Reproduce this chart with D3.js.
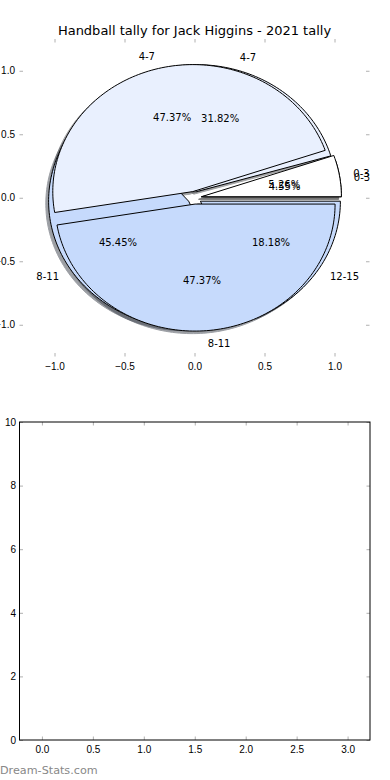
<!DOCTYPE html>
<html>
<head>
<meta charset="utf-8">
<script src="https://cdn.jsdelivr.net/npm/d3@7"></script>
<style>
  body { margin: 0; background: #fff; }
  svg { display: block; font-family: "DejaVu Sans", sans-serif; }
  .tick line { stroke: #b0b0b0; }
  .tick text { font-size: 10px; fill: #000; }
</style>
</head>
<body>
<div id="chart"></div>
<script>
// tally data (the two pies were drawn on the same axes)
var bandsA = ["0-3", "4-7", "8-11", "12-15"];
var countsA = [1, 7, 10, 4];
var bandsB = ["0-3", "4-7", "8-11"];
var countsB = [1, 9, 9];

var bandColors = { "0-3": "#ffffff", "4-7": "#e9f0fe", "8-11": "#c6dafc", "12-15": "#c6dafc" };

var pieTicks = [-1.0, -0.5, 0.0, 0.5, 1.0];
var barXTicks = [0.0, 0.5, 1.0, 1.5, 2.0, 2.5, 3.0];
var barYTicks = [0, 2, 4, 6, 8, 10];

var chartTitle = "Handball tally for Jack Higgins - 2021 tally";

var W = 390, H = 780;
var svg = d3.select("#chart").append("svg")
    .attr("width", W)
    .attr("height", H);

// ---------- top axes: pie ----------
var pieBox = {left: 19.5, right: 369.5, top: 39, bottom: 356.5};

var x = d3.scaleLinear().domain([-1.25, 1.25]).range([pieBox.left, pieBox.right]);
var y = d3.scaleLinear().domain([-1.25, 1.25]).range([pieBox.bottom, pieBox.top]);

var explode = 0.05, labelDist = 1.1, pctDist = 0.6, shadowOff = -0.02;

var line = d3.line()
    .x(function(d) { return x(d[0]); })
    .y(function(d) { return y(d[1]); })
    .curve(d3.curveLinearClosed);

function wedges(bands, counts) {
    var total = d3.sum(counts);
    var arcs = d3.pie().sort(null).startAngle(0).endAngle(2 * Math.PI)(counts);
    return arcs.map(function(a, i) {
        var mid = (a.startAngle + a.endAngle) / 2;
        var cx = explode * Math.cos(mid), cy = explode * Math.sin(mid);
        var pts = [[cx, cy]];
        var n = Math.max(4, Math.ceil((a.endAngle - a.startAngle) * 40));
        for (var k = 0; k <= n; k++) {
            var t = a.startAngle + (a.endAngle - a.startAngle) * k / n;
            pts.push([cx + Math.cos(t), cy + Math.sin(t)]);
        }
        return {
            band: bands[i], pts: pts, mid: mid, cx: cx, cy: cy,
            pct: counts[i] / total * 100
        };
    });
}

var pies = [wedges(bandsA, countsA), wedges(bandsB, countsB)];

var pieG = svg.append("g");

function shade(band) {
    var c = d3.rgb(bandColors[band]);
    return d3.rgb(c.r * 0.3, c.g * 0.3, c.b * 0.3);
}

// shadows go under every wedge
pies.forEach(function(ws) {
    pieG.selectAll(null)
        .data(ws)
        .enter().append("path")
        .attr("d", function(d) {
            return line(d.pts.map(function(p) { return [p[0] + shadowOff, p[1] + shadowOff]; }));
        })
        .attr("fill", function(d) { return shade(d.band); })
        .attr("stroke", function(d) { return shade(d.band); })
        .attr("opacity", 0.5);
});

pies.forEach(function(ws) {
    pieG.selectAll(null)
        .data(ws)
        .enter().append("path")
        .attr("d", function(d) { return line(d.pts); })
        .attr("fill", function(d) { return bandColors[d.band]; })
        .attr("stroke", "#000")
        .attr("stroke-width", 1);
});

var fmtPct = d3.format(".2f");
pies.forEach(function(ws) {
    pieG.selectAll(null)
        .data(ws)
        .enter().append("text")
        .attr("x", function(d) { return x(d.cx + labelDist * Math.cos(d.mid)); })
        .attr("y", function(d) { return y(d.cy + labelDist * Math.sin(d.mid)); })
        .attr("dy", "0.36em")
        .attr("text-anchor", function(d) { return Math.cos(d.mid) > 0 ? "start" : "end"; })
        .style("font-size", "10px")
        .text(function(d) { return d.band; });

    pieG.selectAll(null)
        .data(ws)
        .enter().append("text")
        .attr("x", function(d) { return x(d.cx + pctDist * Math.cos(d.mid)); })
        .attr("y", function(d) { return y(d.cy + pctDist * Math.sin(d.mid)); })
        .attr("dy", "0.36em")
        .attr("text-anchor", "middle")
        .style("font-size", "10px")
        .text(function(d) { return fmtPct(d.pct) + "%"; });
});

// pie axes: ticks only, no spines
var fmt1 = d3.format(".1f");
svg.append("g")
    .attr("transform", "translate(0," + pieBox.bottom + ")")
    .call(d3.axisBottom(x).tickValues(pieTicks).tickFormat(fmt1).tickSize(-3.5).tickPadding(6))
    .call(function(g) { g.select(".domain").remove(); });
svg.append("g")
    .attr("transform", "translate(0," + pieBox.top + ")")
    .call(d3.axisTop(x).tickValues(pieTicks).tickFormat("").tickSize(-3.5))
    .call(function(g) { g.select(".domain").remove(); });
svg.append("g")
    .attr("transform", "translate(" + pieBox.left + ",0)")
    .call(d3.axisLeft(y).tickValues(pieTicks).tickFormat(fmt1).tickSize(-3.5).tickPadding(4.5))
    .call(function(g) { g.select(".domain").remove(); });
svg.append("g")
    .attr("transform", "translate(" + pieBox.right + ",0)")
    .call(d3.axisRight(y).tickValues(pieTicks).tickFormat("").tickSize(-3.5))
    .call(function(g) { g.select(".domain").remove(); });

svg.append("text")
    .attr("x", (pieBox.left + pieBox.right) / 2)
    .attr("y", 35)
    .attr("text-anchor", "middle")
    .style("font-size", "13px")
    .text(chartTitle);

// ---------- bottom axes: empty ----------
var barBox = {left: 19.5, right: 370, top: 422, bottom: 740};

var bx = d3.scaleLinear().domain([-0.22, 3.22]).range([barBox.left, barBox.right]);
var by = d3.scaleLinear().domain([0, 10]).range([barBox.bottom, barBox.top]);

svg.append("g")
    .attr("transform", "translate(0," + barBox.bottom + ")")
    .call(d3.axisBottom(bx).tickValues(barXTicks).tickFormat(fmt1).tickSize(-3.5).tickPadding(6))
    .call(function(g) { g.select(".domain").remove(); });
svg.append("g")
    .attr("transform", "translate(0," + barBox.top + ")")
    .call(d3.axisTop(bx).tickValues(barXTicks).tickFormat("").tickSize(-3.5))
    .call(function(g) { g.select(".domain").remove(); });
svg.append("g")
    .attr("transform", "translate(" + barBox.left + ",0)")
    .call(d3.axisLeft(by).tickValues(barYTicks).tickFormat(d3.format("d")).tickSize(-3.5).tickPadding(3.5))
    .call(function(g) { g.select(".domain").remove(); });
svg.append("g")
    .attr("transform", "translate(" + barBox.right + ",0)")
    .call(d3.axisRight(by).tickValues(barYTicks).tickFormat("").tickSize(-3.5))
    .call(function(g) { g.select(".domain").remove(); });

svg.append("rect")
    .attr("x", barBox.left)
    .attr("y", barBox.top)
    .attr("width", barBox.right - barBox.left)
    .attr("height", barBox.bottom - barBox.top)
    .attr("fill", "none")
    .attr("stroke", "#000")
    .attr("stroke-width", 1);

// watermark
svg.append("text")
    .attr("x", 0)
    .attr("y", 774)
    .style("font-size", "11.2px")
    .style("fill", "#888")
    .text("Dream-Stats.com");
</script>
</body>
</html>
